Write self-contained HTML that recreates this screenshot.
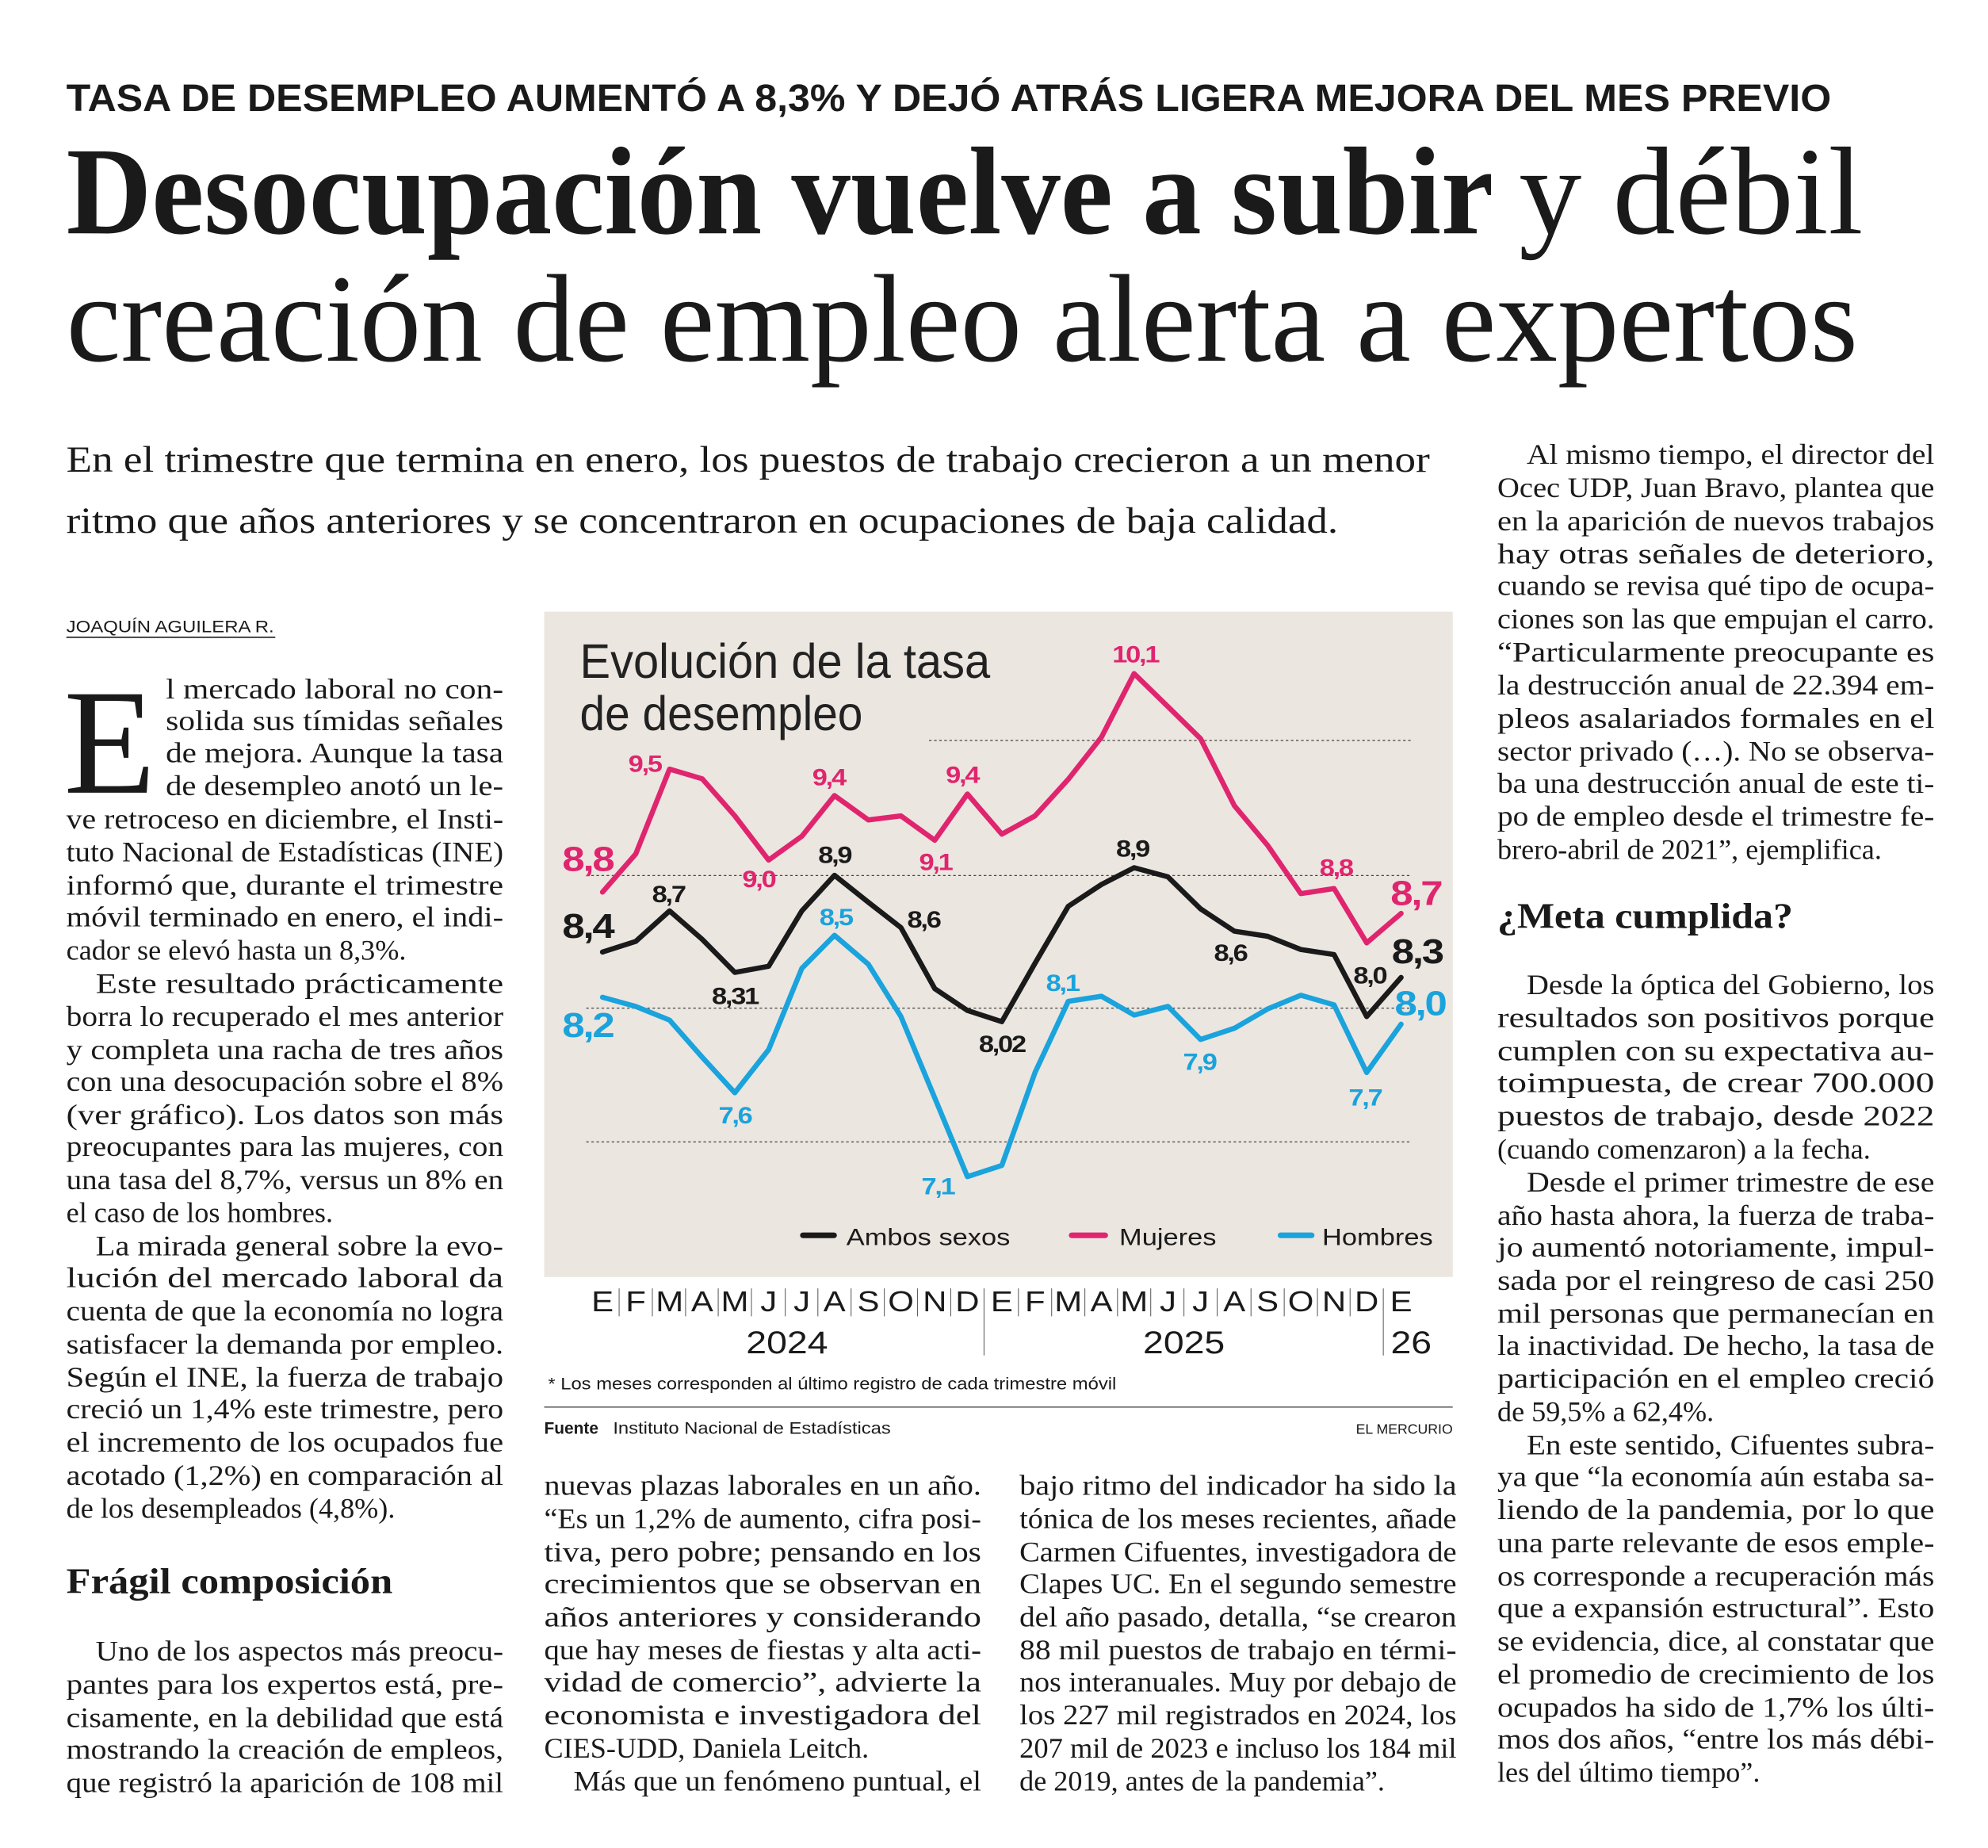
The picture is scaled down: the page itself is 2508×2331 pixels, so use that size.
<!DOCTYPE html>
<html><head><meta charset="utf-8"><style>
html,body{margin:0;padding:0;background:#fff}
svg{display:block}
.b{font-family:"Liberation Serif",serif;font-size:22.5px;fill:#1a1a1a}
.h{font-family:"Liberation Serif",serif;font-weight:bold;font-size:28px;fill:#1a1a1a}
.c{font-family:"Liberation Sans",sans-serif;font-weight:bold;letter-spacing:-3px}
.m{font-family:"Liberation Sans",sans-serif;font-weight:normal}
</style></head><body>
<svg width="2508" height="2331" viewBox="0 0 1560 1450" xmlns="http://www.w3.org/2000/svg">
<rect width="1560" height="1450" fill="#fff"/>
<text x="52" y="87" font-family="Liberation Sans" font-weight="bold" font-size="30" fill="#1a1a1a" textLength="1385" lengthAdjust="spacingAndGlyphs">TASA DE DESEMPLEO AUMENTÓ A 8,3% Y DEJÓ ATRÁS LIGERA MEJORA DEL MES PREVIO</text>
<text x="52" y="183" font-family="Liberation Serif" font-weight="bold" font-size="98" fill="#1a1a1a" textLength="1120" lengthAdjust="spacingAndGlyphs">Desocupación vuelve a subir</text>
<text x="1192" y="183" font-family="Liberation Serif" font-size="98" fill="#1a1a1a" textLength="270" lengthAdjust="spacingAndGlyphs">y débil</text>
<text x="52" y="283" font-family="Liberation Serif" font-size="98" fill="#1a1a1a" textLength="1406" lengthAdjust="spacingAndGlyphs">creación de empleo alerta a expertos</text>
<text x="52" y="370" font-family="Liberation Serif" font-size="29" fill="#1a1a1a" textLength="1070" lengthAdjust="spacingAndGlyphs">En el trimestre que termina en enero, los puestos de trabajo crecieron a un menor</text>
<text x="52" y="418" font-family="Liberation Serif" font-size="29" fill="#1a1a1a" textLength="998" lengthAdjust="spacingAndGlyphs">ritmo que años anteriores y se concentraron en ocupaciones de baja calidad.</text>
<text x="52" y="496" font-family="Liberation Sans" font-size="13" fill="#1a1a1a" textLength="163" lengthAdjust="spacingAndGlyphs">JOAQUÍN AGUILERA R.</text>
<line x1="52" y1="500" x2="216" y2="500" stroke="#1a1a1a" stroke-width="1"/>

<text x="50" y="622" font-family="Liberation Serif" font-size="118" fill="#1a1a1a">E</text>
<g class="b">
<text x="130" y="548" textLength="265" lengthAdjust="spacingAndGlyphs">l mercado laboral no con-</text>
<text x="130" y="573" textLength="265" lengthAdjust="spacingAndGlyphs">solida sus tímidas señales</text>
<text x="130" y="598" textLength="265" lengthAdjust="spacingAndGlyphs">de mejora. Aunque la tasa</text>
<text x="130" y="624" textLength="265" lengthAdjust="spacingAndGlyphs">de desempleo anotó un le-</text>
<text x="52" y="650" textLength="343" lengthAdjust="spacingAndGlyphs">ve retroceso en diciembre, el Insti-</text>
<text x="52" y="676" textLength="343" lengthAdjust="spacingAndGlyphs">tuto Nacional de Estadísticas (INE)</text>
<text x="52" y="702" textLength="343" lengthAdjust="spacingAndGlyphs">informó que, durante el trimestre</text>
<text x="52" y="727" textLength="343" lengthAdjust="spacingAndGlyphs">móvil terminado en enero, el indi-</text>
<text x="52" y="753">cador se elevó hasta un 8,3%.</text>
<text x="75" y="779" textLength="320" lengthAdjust="spacingAndGlyphs">Este resultado prácticamente</text>
<text x="52" y="805" textLength="343" lengthAdjust="spacingAndGlyphs">borra lo recuperado el mes anterior</text>
<text x="52" y="831" textLength="343" lengthAdjust="spacingAndGlyphs">y completa una racha de tres años</text>
<text x="52" y="856" textLength="343" lengthAdjust="spacingAndGlyphs">con una desocupación sobre el 8%</text>
<text x="52" y="882" textLength="343" lengthAdjust="spacingAndGlyphs">(ver gráfico). Los datos son más</text>
<text x="52" y="907" textLength="343" lengthAdjust="spacingAndGlyphs">preocupantes para las mujeres, con</text>
<text x="52" y="933" textLength="343" lengthAdjust="spacingAndGlyphs">una tasa del 8,7%, versus un 8% en</text>
<text x="52" y="959">el caso de los hombres.</text>
<text x="75" y="985" textLength="320" lengthAdjust="spacingAndGlyphs">La mirada general sobre la evo-</text>
<text x="52" y="1010" textLength="343" lengthAdjust="spacingAndGlyphs">lución del mercado laboral da</text>
<text x="52" y="1036" textLength="343" lengthAdjust="spacingAndGlyphs">cuenta de que la economía no logra</text>
<text x="52" y="1062" textLength="343" lengthAdjust="spacingAndGlyphs">satisfacer la demanda por empleo.</text>
<text x="52" y="1088" textLength="343" lengthAdjust="spacingAndGlyphs">Según el INE, la fuerza de trabajo</text>
<text x="52" y="1113" textLength="343" lengthAdjust="spacingAndGlyphs">creció un 1,4% este trimestre, pero</text>
<text x="52" y="1139" textLength="343" lengthAdjust="spacingAndGlyphs">el incremento de los ocupados fue</text>
<text x="52" y="1165" textLength="343" lengthAdjust="spacingAndGlyphs">acotado (1,2%) en comparación al</text>
<text x="52" y="1191">de los desempleados (4,8%).</text>
<text x="75" y="1303" textLength="320" lengthAdjust="spacingAndGlyphs">Uno de los aspectos más preocu-</text>
<text x="52" y="1329" textLength="343" lengthAdjust="spacingAndGlyphs">pantes para los expertos está, pre-</text>
<text x="52" y="1355" textLength="343" lengthAdjust="spacingAndGlyphs">cisamente, en la debilidad que está</text>
<text x="52" y="1380" textLength="343" lengthAdjust="spacingAndGlyphs">mostrando la creación de empleos,</text>
<text x="52" y="1406" textLength="343" lengthAdjust="spacingAndGlyphs">que registró la aparición de 108 mil</text>
</g>
<text class="h" x="52" y="1250" textLength="256" lengthAdjust="spacingAndGlyphs">Frágil composición</text>

<g class="b">
<text x="427" y="1173" textLength="343" lengthAdjust="spacingAndGlyphs">nuevas plazas laborales en un año.</text>
<text x="427" y="1199" textLength="343" lengthAdjust="spacingAndGlyphs">“Es un 1,2% de aumento, cifra posi-</text>
<text x="427" y="1225" textLength="343" lengthAdjust="spacingAndGlyphs">tiva, pero pobre; pensando en los</text>
<text x="427" y="1250" textLength="343" lengthAdjust="spacingAndGlyphs">crecimientos que se observan en</text>
<text x="427" y="1276" textLength="343" lengthAdjust="spacingAndGlyphs">años anteriores y considerando</text>
<text x="427" y="1302" textLength="343" lengthAdjust="spacingAndGlyphs">que hay meses de fiestas y alta acti-</text>
<text x="427" y="1327" textLength="343" lengthAdjust="spacingAndGlyphs">vidad de comercio”, advierte la</text>
<text x="427" y="1353" textLength="343" lengthAdjust="spacingAndGlyphs">economista e investigadora del</text>
<text x="427" y="1379">CIES-UDD, Daniela Leitch.</text>
<text x="450" y="1405" textLength="320" lengthAdjust="spacingAndGlyphs">Más que un fenómeno puntual, el</text>
</g>
<g class="b">
<text x="800" y="1173" textLength="343" lengthAdjust="spacingAndGlyphs">bajo ritmo del indicador ha sido la</text>
<text x="800" y="1199" textLength="343" lengthAdjust="spacingAndGlyphs">tónica de los meses recientes, añade</text>
<text x="800" y="1225" textLength="343" lengthAdjust="spacingAndGlyphs">Carmen Cifuentes, investigadora de</text>
<text x="800" y="1250" textLength="343" lengthAdjust="spacingAndGlyphs">Clapes UC. En el segundo semestre</text>
<text x="800" y="1276" textLength="343" lengthAdjust="spacingAndGlyphs">del año pasado, detalla, “se crearon</text>
<text x="800" y="1302" textLength="343" lengthAdjust="spacingAndGlyphs">88 mil puestos de trabajo en térmi-</text>
<text x="800" y="1327" textLength="343" lengthAdjust="spacingAndGlyphs">nos interanuales. Muy por debajo de</text>
<text x="800" y="1353" textLength="343" lengthAdjust="spacingAndGlyphs">los 227 mil registrados en 2024, los</text>
<text x="800" y="1379" textLength="343" lengthAdjust="spacingAndGlyphs">207 mil de 2023 e incluso los 184 mil</text>
<text x="800" y="1405">de 2019, antes de la pandemia”.</text>
</g>
<g class="b">
<text x="1198" y="364" textLength="320" lengthAdjust="spacingAndGlyphs">Al mismo tiempo, el director del</text>
<text x="1175" y="390" textLength="343" lengthAdjust="spacingAndGlyphs">Ocec UDP, Juan Bravo, plantea que</text>
<text x="1175" y="416" textLength="343" lengthAdjust="spacingAndGlyphs">en la aparición de nuevos trabajos</text>
<text x="1175" y="442" textLength="343" lengthAdjust="spacingAndGlyphs">hay otras señales de deterioro,</text>
<text x="1175" y="467" textLength="343" lengthAdjust="spacingAndGlyphs">cuando se revisa qué tipo de ocupa-</text>
<text x="1175" y="493" textLength="343" lengthAdjust="spacingAndGlyphs">ciones son las que empujan el carro.</text>
<text x="1175" y="519" textLength="343" lengthAdjust="spacingAndGlyphs">“Particularmente preocupante es</text>
<text x="1175" y="545" textLength="343" lengthAdjust="spacingAndGlyphs">la destrucción anual de 22.394 em-</text>
<text x="1175" y="571" textLength="343" lengthAdjust="spacingAndGlyphs">pleos asalariados formales en el</text>
<text x="1175" y="597" textLength="343" lengthAdjust="spacingAndGlyphs">sector privado (…). No se observa-</text>
<text x="1175" y="622" textLength="343" lengthAdjust="spacingAndGlyphs">ba una destrucción anual de este ti-</text>
<text x="1175" y="648" textLength="343" lengthAdjust="spacingAndGlyphs">po de empleo desde el trimestre fe-</text>
<text x="1175" y="674">brero-abril de 2021”, ejemplifica.</text>
<text x="1198" y="780" textLength="320" lengthAdjust="spacingAndGlyphs">Desde la óptica del Gobierno, los</text>
<text x="1175" y="806" textLength="343" lengthAdjust="spacingAndGlyphs">resultados son positivos porque</text>
<text x="1175" y="832" textLength="343" lengthAdjust="spacingAndGlyphs">cumplen con su expectativa au-</text>
<text x="1175" y="857" textLength="343" lengthAdjust="spacingAndGlyphs">toimpuesta, de crear 700.000</text>
<text x="1175" y="883" textLength="343" lengthAdjust="spacingAndGlyphs">puestos de trabajo, desde 2022</text>
<text x="1175" y="909">(cuando comenzaron) a la fecha.</text>
<text x="1198" y="935" textLength="320" lengthAdjust="spacingAndGlyphs">Desde el primer trimestre de ese</text>
<text x="1175" y="961" textLength="343" lengthAdjust="spacingAndGlyphs">año hasta ahora, la fuerza de traba-</text>
<text x="1175" y="986" textLength="343" lengthAdjust="spacingAndGlyphs">jo aumentó notoriamente, impul-</text>
<text x="1175" y="1012" textLength="343" lengthAdjust="spacingAndGlyphs">sada por el reingreso de casi 250</text>
<text x="1175" y="1038" textLength="343" lengthAdjust="spacingAndGlyphs">mil personas que permanecían en</text>
<text x="1175" y="1063" textLength="343" lengthAdjust="spacingAndGlyphs">la inactividad. De hecho, la tasa de</text>
<text x="1175" y="1089" textLength="343" lengthAdjust="spacingAndGlyphs">participación en el empleo creció</text>
<text x="1175" y="1115">de 59,5% a 62,4%.</text>
<text x="1198" y="1141" textLength="320" lengthAdjust="spacingAndGlyphs">En este sentido, Cifuentes subra-</text>
<text x="1175" y="1166" textLength="343" lengthAdjust="spacingAndGlyphs">ya que “la economía aún estaba sa-</text>
<text x="1175" y="1192" textLength="343" lengthAdjust="spacingAndGlyphs">liendo de la pandemia, por lo que</text>
<text x="1175" y="1218" textLength="343" lengthAdjust="spacingAndGlyphs">una parte relevante de esos emple-</text>
<text x="1175" y="1244" textLength="343" lengthAdjust="spacingAndGlyphs">os corresponde a recuperación más</text>
<text x="1175" y="1269" textLength="343" lengthAdjust="spacingAndGlyphs">que a expansión estructural”. Esto</text>
<text x="1175" y="1295" textLength="343" lengthAdjust="spacingAndGlyphs">se evidencia, dice, al constatar que</text>
<text x="1175" y="1321" textLength="343" lengthAdjust="spacingAndGlyphs">el promedio de crecimiento de los</text>
<text x="1175" y="1347" textLength="343" lengthAdjust="spacingAndGlyphs">ocupados ha sido de 1,7% los últi-</text>
<text x="1175" y="1372" textLength="343" lengthAdjust="spacingAndGlyphs">mos dos años, “entre los más débi-</text>
<text x="1175" y="1398">les del último tiempo”.</text>
</g>
<text class="h" x="1175" y="728" textLength="232" lengthAdjust="spacingAndGlyphs">¿Meta cumplida?</text>

<rect x="427" y="480" width="713" height="522" fill="#ece6e0"/>
<text x="455" y="532" font-family="Liberation Sans" font-size="38" fill="#222" textLength="322" lengthAdjust="spacingAndGlyphs">Evolución de la tasa</text>
<text x="455" y="573" font-family="Liberation Sans" font-size="38" fill="#222" textLength="222" lengthAdjust="spacingAndGlyphs">de desempleo</text>
<g stroke="#444" stroke-width="0.8" stroke-dasharray="2,2">
<line x1="729" y1="581" x2="1108" y2="581"/>
<line x1="460" y1="687" x2="1108" y2="687"/>
<line x1="460" y1="791" x2="1108" y2="791"/>
<line x1="460" y1="896" x2="1108" y2="896"/>
</g>
<g transform="matrix(0.4656,0,0,0.3987,422.96,472.7)">
<g fill="none" stroke-width="6.5" stroke-linejoin="round" stroke-linecap="round">
<polyline vector-effect="non-scaling-stroke" stroke="#e0256f" points="107,570 163,495 220,328 275,347 330,420 387,507 443,460 498,380 555,428 610,420 667,468 722,377 780,456 836,420 892,348 948,265 1003,140 1060,205 1115,268 1172,400 1228,478 1284,573 1340,563 1395,670 1453,612"/>
<polyline vector-effect="non-scaling-stroke" stroke="#1a1a1a" points="107,688 163,667 220,607 275,663 330,728 387,716 443,607 498,537 555,590 610,640 667,760 722,803 780,825 836,710 892,598 948,555 1003,522 1060,540 1115,603 1172,647 1228,657 1284,683 1340,693 1395,815 1453,738"/>
<polyline vector-effect="non-scaling-stroke" stroke="#1aa3dc" points="107,777 163,795 220,822 275,895 330,965 387,880 443,720 498,655 555,712 610,815 667,975 722,1130 780,1108 836,925 892,785 948,775 1003,812 1060,795 1115,860 1172,838 1228,800 1284,773 1340,792 1395,925 1453,830"/>
</g>
<g class="c" text-anchor="middle" font-size="46" fill="#e0256f">
<text x="82" y="528" font-size="68">8,8</text>
<text x="178" y="333">9,5</text><text x="370" y="560">9,0</text><text x="488" y="360">9,4</text>
<text x="668" y="527">9,1</text><text x="713" y="355">9,4</text><text x="1005" y="118">10,1</text>
<text x="1343" y="538">8,8</text><text x="1478" y="595" font-size="68">8,7</text>
</g>
<g class="c" text-anchor="middle" font-size="46" fill="#1a1a1a">
<text x="82" y="660" font-size="68">8,4</text>
<text x="218" y="590">8,7</text><text x="330" y="790">8,31</text><text x="498" y="513">8,9</text>
<text x="648" y="640">8,6</text><text x="780" y="885">8,02</text><text x="1000" y="500">8,9</text>
<text x="1165" y="705">8,6</text><text x="1400" y="750">8,0</text><text x="1480" y="710" font-size="68">8,3</text>
</g>
<g class="c" text-anchor="middle" font-size="46" fill="#1aa3dc">
<text x="82" y="855" font-size="68">8,2</text>
<text x="330" y="1025">7,6</text><text x="500" y="635">8,5</text><text x="672" y="1165">7,1</text>
<text x="882" y="765">8,1</text><text x="1113" y="920">7,9</text><text x="1392" y="990">7,7</text>
<text x="1485" y="812" font-size="68">8,0</text>
</g>
<g font-family="Liberation Sans" font-size="46" fill="#1a1a1a">
<rect x="440" y="1240" width="62" height="11" rx="5" fill="#1a1a1a"/>
<text x="518" y="1265">Ambos sexos</text>
<rect x="893" y="1240" width="66" height="11" rx="5" fill="#e0256f"/>
<text x="978" y="1265">Mujeres</text>
<rect x="1245" y="1240" width="62" height="11" rx="5" fill="#1aa3dc"/>
<text x="1320" y="1265">Hombres</text>
</g>
<g class="m" text-anchor="middle" font-size="56" fill="#1a1a1a">
<text x="107" y="1395">E</text><text x="163" y="1395">F</text><text x="220" y="1395">M</text><text x="275" y="1395">A</text><text x="330" y="1395">M</text><text x="387" y="1395">J</text><text x="443" y="1395">J</text><text x="498" y="1395">A</text><text x="555" y="1395">S</text><text x="610" y="1395">O</text><text x="667" y="1395">N</text><text x="722" y="1395">D</text>
<text x="780" y="1395">E</text><text x="836" y="1395">F</text><text x="892" y="1395">M</text><text x="948" y="1395">A</text><text x="1003" y="1395">M</text><text x="1060" y="1395">J</text><text x="1115" y="1395">J</text><text x="1172" y="1395">A</text><text x="1228" y="1395">S</text><text x="1284" y="1395">O</text><text x="1340" y="1395">N</text><text x="1395" y="1395">D</text><text x="1453" y="1395">E</text>
</g>
<path vector-effect="non-scaling-stroke" stroke="#555" stroke-width="1" fill="none" d="M135,1350V1405M191,1350V1405M247,1350V1405M302,1350V1405M358,1350V1405M415,1350V1405M470,1350V1405M526,1350V1405M582,1350V1405M638,1350V1405M694,1350V1405M808,1350V1405M864,1350V1405M920,1350V1405M975,1350V1405M1031,1350V1405M1087,1350V1405M1143,1350V1405M1200,1350V1405M1256,1350V1405M1312,1350V1405M1367,1350V1405M750,1350V1482M1423,1350V1482"/>
<g font-family="Liberation Sans" font-size="62" fill="#1a1a1a" text-anchor="middle">
<text x="418" y="1478">2024</text><text x="1087" y="1478">2025</text><text x="1470" y="1478">26</text>
</g>
</g>
<text x="430" y="1090" font-family="Liberation Sans" font-size="13" fill="#1a1a1a" textLength="446" lengthAdjust="spacingAndGlyphs">*  Los meses corresponden al último registro de cada trimestre móvil</text>
<line x1="427" y1="1104" x2="1140" y2="1104" stroke="#666" stroke-width="1"/>
<text x="427" y="1125" font-family="Liberation Sans" font-size="13" font-weight="bold" fill="#1a1a1a">Fuente</text>
<text x="481" y="1125" font-family="Liberation Sans" font-size="13" fill="#1a1a1a" textLength="218" lengthAdjust="spacingAndGlyphs">Instituto Nacional de Estadísticas</text>
<text x="1140" y="1125" text-anchor="end" font-family="Liberation Sans" font-size="11" fill="#1a1a1a">EL MERCURIO</text>
</svg>
</body></html>
